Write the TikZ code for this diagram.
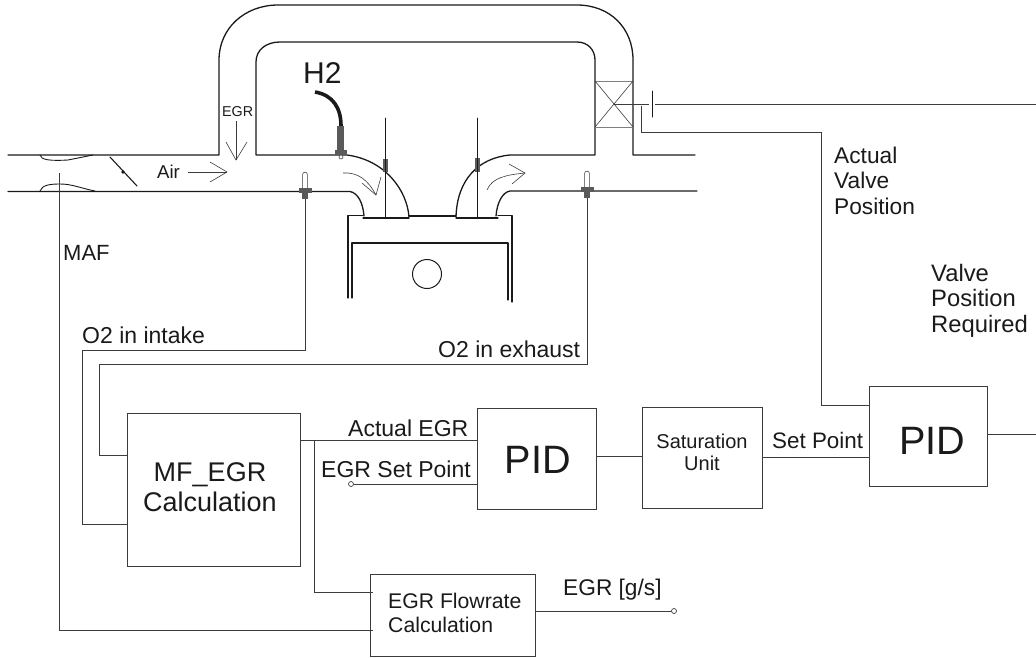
\documentclass[tikz,border=0pt]{standalone}
\usepackage{fontspec}
\setmainfont{Liberation Sans}
\definecolor{ink}{HTML}{1A1A1A}
\definecolor{wirec}{HTML}{3C3C3C}
\definecolor{graybody}{HTML}{5A5A5A}
\tikzset{
  pipe/.style={draw=ink,line width=1.3pt,line cap=round,line join=round},
  wire/.style={draw=wirec,line width=0.9pt,line join=miter},
  thinpen/.style={draw=wirec,line width=0.6pt},
  blockbox/.style={draw=wirec,line width=0.9pt,fill=none,inner sep=0pt},
  lbl/.style={inner sep=0pt,anchor=base west,text=ink,align=left},
  lblc/.style={inner sep=0pt,anchor=base,text=ink,align=center},
  endcircle/.style={circle,draw=wirec,fill=white,line width=0.7pt,minimum size=5pt,inner sep=0pt},
  sensor/.pic={
    \draw[thinpen,fill=white] (-2.4,-4) -- (-2.4,-17.5) arc[start angle=180,end angle=360,radius=2.4] -- (2.4,-4);
    \fill[graybody] (-6.5,-4) rectangle (6.5,0.5);
    \fill[graybody] (-3,0) rectangle (3,7);
  }
}
\newcommand{\fs}[2]{\fontsize{#1}{#2}\selectfont}
\begin{document}
\begin{tikzpicture}[x=1pt,y=-1pt]
\useasboundingbox (0,0) rectangle (1036,657);

% --- EGR pipe and manifolds
\draw[pipe] (8,155) -- (219,155) -- (219,60) .. controls (219,28) and (245,5) .. (278,5)
  -- (577,5) .. controls (610,5) and (633,28) .. (633,60) -- (633,155) -- (695,155);
\draw[pipe] (409,217) .. controls (407,190) and (385,160) .. (347,155) -- (256,155) -- (256,62)
  .. controls (256,50) and (266,42) .. (280,42) -- (577,42) .. controls (588,42) and (595,50) .. (595,60)
  -- (595,155) -- (510,155) .. controls (478,158) and (457,180) .. (456,217);
\draw[pipe] (8,191.5) -- (350,191.5) .. controls (358,193) and (363,203) .. (364,216);
\draw[pipe] (697,191) -- (510,191) .. controls (503,192) and (497,202) .. (496,216);

% --- MAF venturi
\draw[pipe,line width=0.9pt] (40,155) .. controls (41,160) and (50,161) .. (68,160) -- (93,155);
\draw[pipe,line width=0.9pt] (40,191) .. controls (42,185) and (50,184) .. (60,184) .. controls (72,184) and (80,188) .. (95,191);

% --- throttle
\draw[pipe,line width=1.1pt] (110,157) -- (137,186);
\fill[ink] (123,172) circle (1.8);

% --- head and cylinder
\draw[pipe] (348,298) -- (348,215.5) -- (363,215.5);
\draw[pipe] (363,218) -- (409,218);
\draw[pipe] (409,216) -- (456,216);
\draw[pipe] (456,218) -- (498,218);
\draw[pipe] (498,215.5) -- (512,215.5) -- (512,302);
\draw[pipe] (352,298) -- (352,243) -- (508,243) -- (508,300);
\node[circle,draw=ink,line width=1pt,minimum size=29pt,inner sep=0pt] (crank) at (427,274) {};

% --- valves
\fill[graybody] (383,159) rectangle (388,172);
\fill[graybody] (475,158) rectangle (479.5,172);
\draw[pipe,line width=1pt] (385,118) -- (385,218);
\draw[pipe,line width=1pt] (477,118) -- (477,218);

% --- flow arrows
\draw[thinpen] (188,172) -- (227,172);
\draw[thinpen] (210,162) -- (227,172) -- (210,182);
\draw[thinpen] (236,121) -- (236,160);
\draw[thinpen] (226,142) -- (236,160) -- (247,142);
\draw[thinpen] (343,173) .. controls (358,172) and (368,180) .. (376,195);
\draw[thinpen] (381,177) -- (376,195) -- (362,183);
\draw[thinpen] (487,190) .. controls (492,178) and (505,175) .. (525,173);
\draw[thinpen] (509,164) -- (525,173) -- (512,184);

% --- EGR valve
\draw[wire,draw=gray] (595,81) -- (633,81);
\draw[wire,draw=gray] (595,127) -- (633,127);
\draw[thinpen] (595,81) -- (633,127);
\draw[thinpen] (633,81) -- (595,127);
\coordinate (valvec) at (614,104);
\coordinate (capa) at (649,104);
\coordinate (capb) at (655,104);
\coordinate (rightend) at (1036,104);
\coordinate (capt) at (652,91);
\coordinate (capd) at (652,117);
\draw[wire] (valvec) -- (capa);
\draw[wire] (capb) -- (rightend);
\draw[pipe,line width=1pt] (capt) -- (capd);

% --- sensors
\pic at (305,192) {sensor};
\pic at (587,191) {sensor};
% H2 sensor
\draw[ink,line width=3.6pt] (315,92) .. controls (333,95) and (341,108) .. (341,126);
\fill[graybody] (337,126) rectangle (344,150);
\fill[graybody] (335,150) rectangle (347,155);
\draw[thinpen,fill=white] (341,157) circle (2);

% --- blocks
\node[blockbox,minimum width=173pt,minimum height=153pt] (mf) at (213.5,489.5) {};
\node[blockbox,minimum width=119pt,minimum height=101pt] (pidone) at (536.5,458.5) {};
\node[blockbox,minimum width=120pt,minimum height=101pt] (sat) at (702,457.5) {};
\node[blockbox,minimum width=118.5pt,minimum height=100pt] (pidtwo) at (928.5,436) {};
\node[blockbox,minimum width=165pt,minimum height=82pt] (flow) at (452.5,615) {};

\node[lblc,font=\fs{27}{30}] (mft) at (210,511) {MF\_EGR\\Calculation};
\node[lblc,font=\fs{39.6}{42}] (pidonet) at (538,473) {PID};
\node[lblc,font=\fs{39.6}{42}] (pidtwot) at (932,454) {PID};
\node[lblc,font=\fs{20}{22}] (satt) at (702,470) {Saturation\\Unit};
\node[lbl,font=\fs{21.2}{24}] (flowt) at (388,632) {EGR Flowrate\\Calculation};

% --- free ends
\coordinate (maftop) at (59,173);
\coordinate (mafin) at (373,630);
\coordinate (oin) at (305.5,199);
\coordinate (oex) at (587,198);
\coordinate (avp) at (641,106);
\coordinate (branch) at (314,440);
\coordinate (flowin) at (373,592);
\node[endcircle] (spend) at (351,484) {};
\node[endcircle] (flowend) at (674,611) {};
\coordinate (outr) at (1036,434);

% --- connectors
\draw[wire] (maftop) |- (mafin);
\draw[wire] (oin) |- (82,350) |- (mf.west |- 0,524);
\draw[wire] (oex) |- (99,364) |- (mf.west |- 0,455);
\draw[wire] (mf.east |- branch) -- (pidone.west |- branch);
\draw[wire] (branch) |- (flowin);
\draw[wire] (spend) -- (pidone.west |- spend);
\draw[wire] (pidone.east |- 0,456) -- (sat.west |- 0,456);
\draw[wire] (sat.east |- 0,457) -- (pidtwo.west |- 0,457);
\draw[wire] (avp) |- (821,132) |- (pidtwo.west |- 0,405);
\draw[wire] (pidtwo.east |- outr) -- (outr);
\draw[wire] (flow.east |- flowend) -- (flowend);

% --- labels
\node[lbl,font=\fs{30}{32}] (htwo) at (303,83) {H2};
\node[lbl,font=\fs{14.3}{16}] (egrt) at (222,116) {EGR};
\node[lbl,font=\fs{18.6}{20}] (air) at (157,178) {Air};
\node[lbl,font=\fs{22}{24}] (maf) at (63,260) {MAF};
\node[lbl,font=\fs{23}{25}] (oit) at (82,343) {O2 in intake};
\node[lbl,font=\fs{23}{25}] (oet) at (438,357) {O2 in exhaust};
\node[lbl,font=\fs{23}{25}] (acte) at (348,436) {Actual EGR};
\node[lbl,font=\fs{23}{25}] (esp) at (321,477) {EGR Set Point};
\node[lbl,font=\fs{22.4}{25}] (spt) at (772,448) {Set Point};
\node[lbl,font=\fs{22.7}{25.5}] (avpt) at (834,214) {Actual\\Valve\\Position};
\node[lbl,font=\fs{23.8}{25.5}] (vpr) at (931,332) {Valve\\Position\\Required};
\node[lbl,font=\fs{22.7}{25}] (egrgs) at (563,595) {EGR [g/s]};
\end{tikzpicture}
\end{document}
